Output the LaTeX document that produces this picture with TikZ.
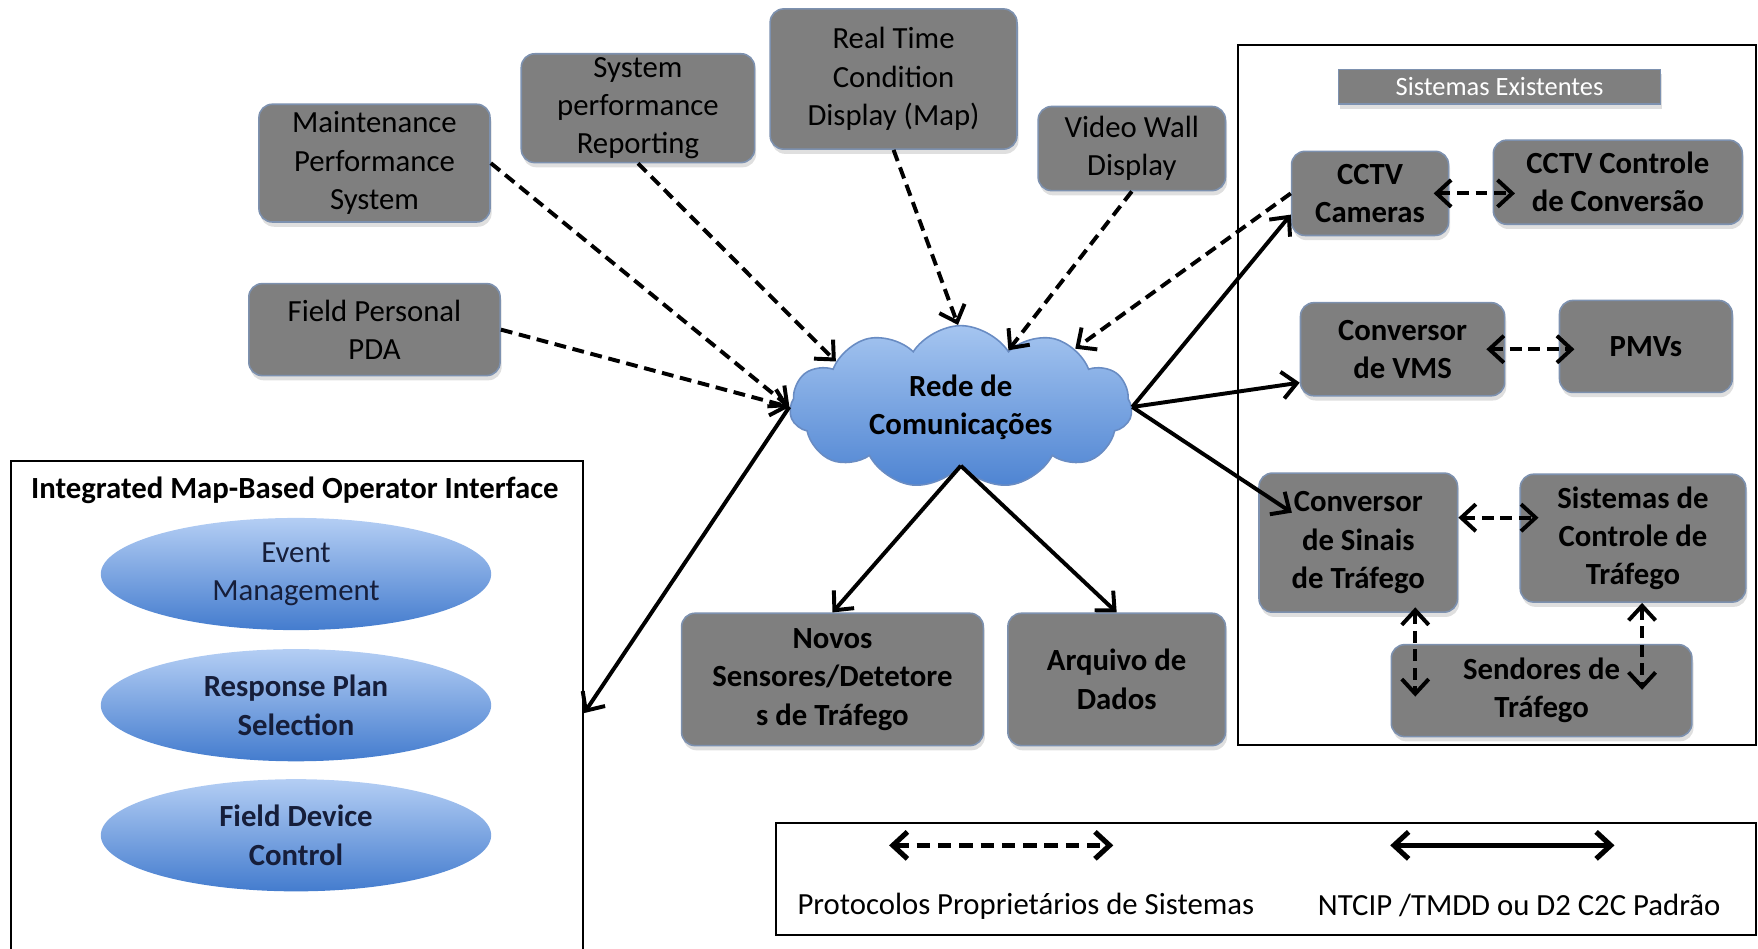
\documentclass[tikz,border=0pt]{standalone}
\usepackage{fontspec}
\setmainfont{Carlito}
\usepackage{xcolor}
\usepackage{tikz}
\usetikzlibrary{shapes}
\usetikzlibrary{shapes.geometric}
\usetikzlibrary{shapes.symbols}
\usetikzlibrary{arrows.meta}
\usetikzlibrary{shadows}
\usetikzlibrary{positioning}
\usetikzlibrary{calc}
\definecolor{boxgray}{RGB}{127,127,127}
\definecolor{boxedge}{RGB}{125,145,175}
\definecolor{cloudtop}{RGB}{165,197,240}
\definecolor{cloudbot}{RGB}{78,132,210}
\definecolor{cloudedge}{RGB}{105,140,195}
\definecolor{ovaltop}{RGB}{180,206,244}
\definecolor{ovalbot}{RGB}{68,124,206}
\definecolor{ovaltext}{RGB}{22,30,58}

\begin{document}
\begin{tikzpicture}[x=0.01cm,y=-0.01cm,
  font=\fontsize{7.8}{9.7}\selectfont,
  >={Straight Barb[length=1.3mm,width=2.4mm]},
  graybox/.style={draw=boxedge,line width=0.4pt,fill=boxgray,rounded corners=0.12cm,align=center,inner sep=0pt,
    drop shadow={opacity=0.25,shadow xshift=0.4pt,shadow yshift=-1.2pt}},
  bannerbox/.style={draw=boxedge,line width=0.4pt,fill=boxgray,text=white,inner sep=0pt,font=\fontsize{6.7}{8}\selectfont,
    drop shadow={opacity=0.25,shadow xshift=0.4pt,shadow yshift=-1.2pt}},
  netcloud/.style={shape=cloud,cloud puffs=11,cloud puff arc=115,aspect=2.1,draw=cloudedge,line width=0.4pt,top color=cloudtop,bottom color=cloudbot,align=center,inner sep=0pt,font=\fontsize{7.8}{9.7}\selectfont\bfseries},
  oval/.style={shape=ellipse,draw=none,top color=ovaltop,bottom color=ovalbot,text=ovaltext,align=center,inner sep=0pt,minimum width=3.48cm,minimum height=1cm},
  frame/.style={draw,line width=0.5pt,inner sep=0pt},
  dashlink/.style={draw,line width=1pt,dash pattern=on 3pt off 1.7pt},
  solidlink/.style={draw,line width=1pt}]
  \useasboundingbox (0,0) rectangle (1568,846);

  \node[graybox,minimum width=2.06cm,minimum height=1.05cm] (maint) at (334,145.5) {Maintenance\\Performance\\System};
  \node[graybox,minimum width=2.08cm,minimum height=0.97cm] (sysperf) at (569,96.5) {System\\performance\\Reporting};
  \node[graybox,minimum width=2.2cm,minimum height=1.25cm] (realtime) at (797,70.5) {Real Time\\Condition\\Display (Map)};
  \node[graybox,minimum width=1.67cm,minimum height=0.75cm] (videowall) at (1009.5,132.5) {Video Wall\\Display};
  \node[graybox,minimum width=2.24cm,minimum height=0.82cm] (pda) at (334,294) {Field Personal\\PDA};

  \node[netcloud,minimum width=3.05cm,minimum height=1.45cm] (cloud) at (857,363) {Rede de\\Comunicações};

  \node[frame,minimum width=5.1cm,minimum height=4.5cm] (opi) at (265,636) {};
  \node[font=\fontsize{7.8}{9.7}\selectfont\bfseries] (opititle) at (263,437) {Integrated Map-Based Operator Interface};
  \node[oval] (event) at (264,512) {Event\\Management};
  \node[oval,font=\fontsize{7.8}{9.7}\selectfont\bfseries] (response) at (264,629) {Response Plan\\Selection};
  \node[oval,font=\fontsize{7.8}{9.7}\selectfont\bfseries] (fielddev) at (264,745) {Field Device\\Control};

  \node[graybox,font=\fontsize{7.8}{9.7}\selectfont\bfseries,minimum width=2.69cm,minimum height=1.18cm] (novos) at (742.5,606) {Novos\\Sensores/Detetore\\s de Tráfego};
  \node[graybox,font=\fontsize{7.8}{9.7}\selectfont\bfseries,minimum width=1.94cm,minimum height=1.18cm] (arquivo) at (996,606) {Arquivo de\\Dados};

  \node[frame,minimum width=4.62cm,minimum height=6.24cm] (existing) at (1335,352) {};
  \node[bannerbox,minimum width=2.87cm,minimum height=0.31cm] (banner) at (1337.5,77.5) {Sistemas Existentes};
  \node[graybox,font=\fontsize{7.8}{9.7}\selectfont\bfseries,minimum width=1.4cm,minimum height=0.75cm] (cam) at (1222,172.5) {CCTV\\Cameras};
  \node[graybox,font=\fontsize{7.8}{9.7}\selectfont\bfseries,minimum width=2.22cm,minimum height=0.75cm] (camctrl) at (1443,162.5) {CCTV Controle\\de Conversão};
  \node[graybox,font=\fontsize{7.8}{9.7}\selectfont\bfseries,minimum width=1.82cm,minimum height=0.83cm] (vms) at (1251,311.5) {Conversor\\de VMS};
  \node[graybox,font=\fontsize{7.8}{9.7}\selectfont\bfseries,minimum width=1.54cm,minimum height=0.82cm] (pmv) at (1468,309) {PMVs};
  \node[graybox,font=\fontsize{7.8}{9.7}\selectfont\bfseries,minimum width=1.77cm,minimum height=1.24cm] (sinais) at (1211.5,484) {Conversor\\de Sinais\\de Tráfego};
  \node[graybox,font=\fontsize{7.8}{9.7}\selectfont\bfseries,minimum width=2.01cm,minimum height=1.14cm] (controle) at (1456.5,480) {Sistemas de\\Controle de\\Tráfego};
  \node[graybox,font=\fontsize{7.8}{9.7}\selectfont\bfseries,minimum width=2.68cm,minimum height=0.82cm] (sendores) at (1375,616) {Sendores de\\Tráfego};

  \node[frame,minimum width=8.74cm,minimum height=1cm] (legend) at (1129,784) {};
  \coordinate (propa) at (793,754);
  \coordinate (propb) at (993,754);
  \coordinate (stda) at (1240,754);
  \coordinate (stdb) at (1440,754);
  \node (proplabel) at (915,808) {Protocolos Proprietários de Sistemas};
  \node (stdlabel) at (1355,808) {NTCIP /TMDD ou D2 C2C Padrão};

  \draw[dashlink,->] (maint.east) -- (cloud.west);
  \draw[dashlink,->] (pda.east) -- (cloud.west);
  \draw[dashlink,->] (sysperf.south) -- (cloud.160);
  \draw[dashlink,->] (realtime.south) -- (cloud.92);
  \draw[dashlink,->] (videowall.south) -- (cloud.50);
  \draw[dashlink,->] (cam.west) -- (cloud.27);

  \draw[solidlink,->] (cloud.west) -- (opi.east);
  \draw[solidlink,->] (cloud.south) -- (novos.north);
  \draw[solidlink,->] (cloud.south) -- (arquivo.north);
  \draw[solidlink,->] (cloud.east) -- (cam.195);
  \draw[solidlink,->] (cloud.east) -- (vms.198);
  \draw[solidlink,->] (cloud.east) -- ([shift={(30,36)}]sinais.north west);

  \draw[dashlink,<->,shorten <=-0.14cm,shorten >=-0.2cm] (cam.east) -- (cam.east -| camctrl.west);
  \draw[dashlink,<->,shorten <=-0.17cm,shorten >=-0.14cm] (vms.east) -- (vms.east -| pmv.west);
  \draw[dashlink,<->,shorten >=-0.17cm] (sinais.14) -- (sinais.14 -| controle.west);
  \draw[dashlink,<->,shorten <=-0.05cm,shorten >=-0.47cm] (sinais.-51) -- (sinais.-51 |- sendores.north);
  \draw[dashlink,<->,shorten >=-0.41cm] (controle.-82) -- (controle.-82 |- sendores.north);

  \draw[dashlink,<->,line width=1.3pt,dash pattern=on 3.4pt off 2pt] (propa) -- (propb);
  \draw[solidlink,<->,line width=1.3pt] (stda) -- (stdb);
\end{tikzpicture}
\end{document}
